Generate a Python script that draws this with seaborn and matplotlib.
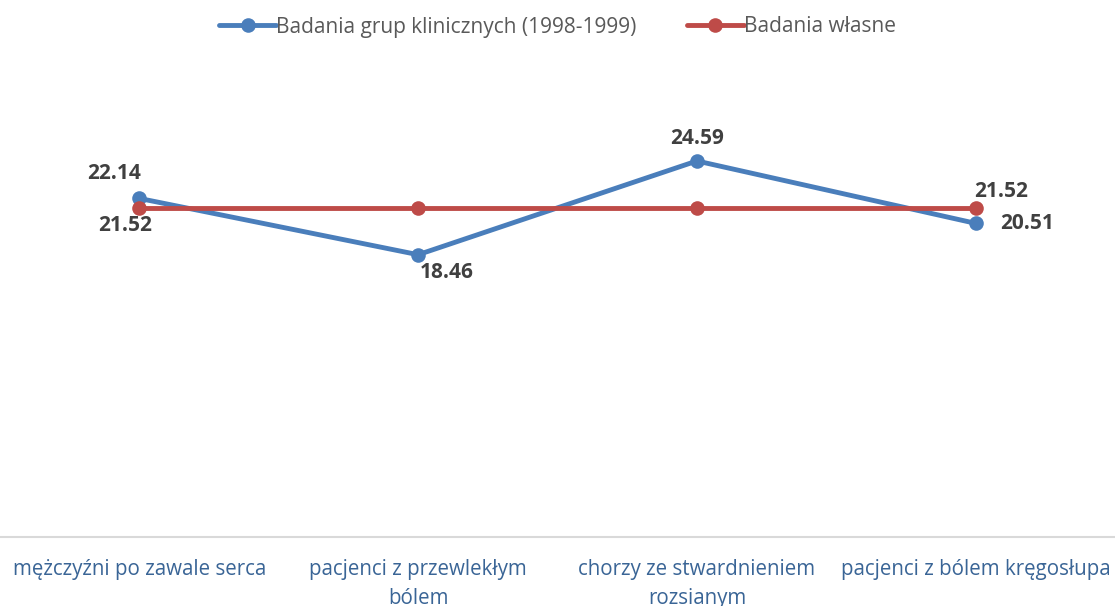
import pandas as pd
import matplotlib.pyplot as plt
import seaborn as sns

# Data
categories = [
    "mężczyźni po zawale serca",
    "pacjenci z przewlekłym bólem",
    "chorzy ze stwardnieniem rozsianym",
    "pacjenci z bólem kręgosłupa",
]
tick_labels = [
    "mężczyźni po zawale serca",
    "pacjenci z przewlekłym\nbólem",
    "chorzy ze stwardnieniem\nrozsianym",
    "pacjenci z bólem kręgosłupa",
]
series_names = ["Badania grup klinicznych (1998-1999)", "Badania własne"]
clinical = [22.14, 18.46, 24.59, 20.51]
own = [21.52, 21.52, 21.52, 21.52]

df = pd.DataFrame({
    "kategoria": categories * 2,
    "wartosc": clinical + own,
    "seria": [series_names[0]] * 4 + [series_names[1]] * 4,
})

sns.set_theme(style="white")
plt.rcParams["font.family"] = ["Open Sans", "DejaVu Sans"]

colors = {series_names[0]: "#4A7EBB", series_names[1]: "#BE4B48"}

fig = plt.figure(figsize=(11.15, 6.06), dpi=100)
ax = fig.add_axes([0.0, 0.1139, 1.0, 0.757])

sns.lineplot(data=df, x="kategoria", y="wartosc", hue="seria", palette=colors,
             marker="o", markersize=10.5, markeredgewidth=0, linewidth=3.5,
             sort=False, ax=ax)

ax.set_xlim(-0.5, 3.5)
ax.set_ylim(0, 30)
ax.set_xlabel("")
ax.set_ylabel("")
ax.set_yticks([])
ax.set_xticks(range(len(categories)))
ax.set_xticklabels(tick_labels, color="#3A6596", fontsize=14.8, linespacing=1.5)
ax.tick_params(axis="x", length=0, pad=16)
for side in ["top", "left", "right"]:
    ax.spines[side].set_visible(False)
ax.spines["bottom"].set_color("#D9D9D9")
ax.spines["bottom"].set_linewidth(1.5)

# Data labels (offsets in pixels from the point)
blue_offsets = [(-25, 25), (29, -18), (0, 22), (51, 0)]
for i, (v, off) in enumerate(zip(clinical, blue_offsets)):
    ax.annotate(f"{v:.2f}", (i, v), xytext=off, textcoords="offset pixels",
                ha="center", va="center", fontsize=15, fontweight="bold",
                color="#404040")
red_labels = {0: (-14, -18), 3: (25, 16)}
for i, off in red_labels.items():
    ax.annotate(f"{own[i]:.2f}", (i, own[i]), xytext=off, textcoords="offset pixels",
                ha="center", va="center", fontsize=15, fontweight="bold",
                color="#404040")

handles, labels = ax.get_legend_handles_labels()
if ax.get_legend() is not None:
    ax.get_legend().remove()
fig.legend(handles, labels, loc="center", bbox_to_anchor=(0.5, 1 - 27 / 606),
           ncol=2, frameon=False, fontsize=15, labelcolor="#595959",
           handlelength=2.75, handletextpad=0.0, columnspacing=2.4)

fig.savefig("out.png", dpi=100)
